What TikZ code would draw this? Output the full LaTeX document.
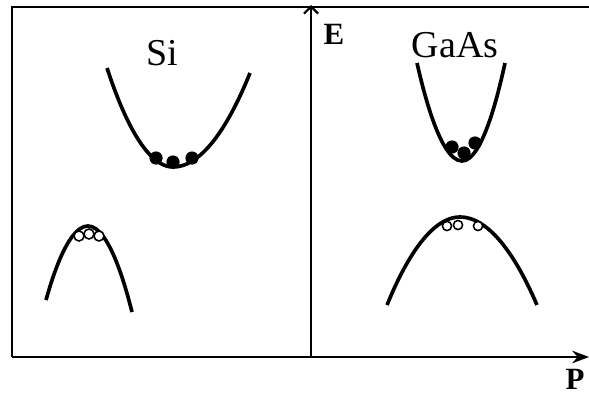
\documentclass[tikz,border=0pt]{standalone}
\usepackage{fontspec}
\setmainfont{Liberation Serif}
\usetikzlibrary{arrows.meta, positioning, calc}

\begin{document}
\begin{tikzpicture}[
    x=0.025cm, y=-0.025cm,
    axis/.style={line width=1.6pt},
    band/.style={line width=2.6pt},
    electron/.style={circle, fill=black, inner sep=0pt, minimum size=0.33cm},
    hole/.style={circle, draw=black, fill=white, line width=1.1pt, inner sep=0pt, minimum size=0.25cm},
    bigtext/.style={font=\fontsize{27}{29}\selectfont, inner sep=0pt, anchor=base},
    axtext/.style={font=\fontsize{22}{24}\selectfont\bfseries, inner sep=0pt, anchor=base}
]
    \useasboundingbox (0,0) rectangle (589,394);

    % frame and axes
    \coordinate (origin) at (311,357);
    \coordinate (etop) at (311,5);
    \coordinate (pend) at (589,357);
    \coordinate (corner) at (12,357);
    \coordinate (topleft) at (12,7);
    \coordinate (topright) at (589,7);
    \draw [axis] (topright) -- (topleft) -- (corner);
    \draw [axis, -{Stealth[length=12pt, width=9pt]}] (corner) -- (pend);
    \draw [axis, -{Straight Barb[length=5pt, width=10pt]}] (origin) -- (etop);
    \node (elabel) [axtext] at (334,45) {E};
    \node (plabel) [axtext] at (575,389) {P};

    % Si
    \node (si) [bigtext] at (162,65) {Si};
    \draw [band] (107,68) parabola bend (173,167) (250,73);
    \draw [band] (46,300) parabola bend (88,226) (132,312);
    \node (sie1) [electron] at (156,158) {};
    \node (sie2) [electron] at (173,162) {};
    \node (sie3) [electron] at (192,158) {};
    \node (sih1) [hole] at (79,236) {};
    \node (sih2) [hole] at (89,234) {};
    \node (sih3) [hole] at (99,236) {};

    % GaAs
    \node (gaas) [bigtext] at (455,57) {GaAs};
    \draw [band] (417,63) parabola bend (462,161) (505,63);
    \draw [band] (387,305) parabola bend (460,217) (537,305);
    \node (gae1) [electron] at (452,147) {};
    \node (gae2) [electron] at (464,153) {};
    \node (gae3) [electron] at (475,143) {};
    \node (gah1) [hole, minimum size=0.23cm] at (447,226) {};
    \node (gah2) [hole, minimum size=0.23cm] at (458,225) {};
    \node (gah3) [hole, minimum size=0.23cm] at (478,226) {};
\end{tikzpicture}
\end{document}
